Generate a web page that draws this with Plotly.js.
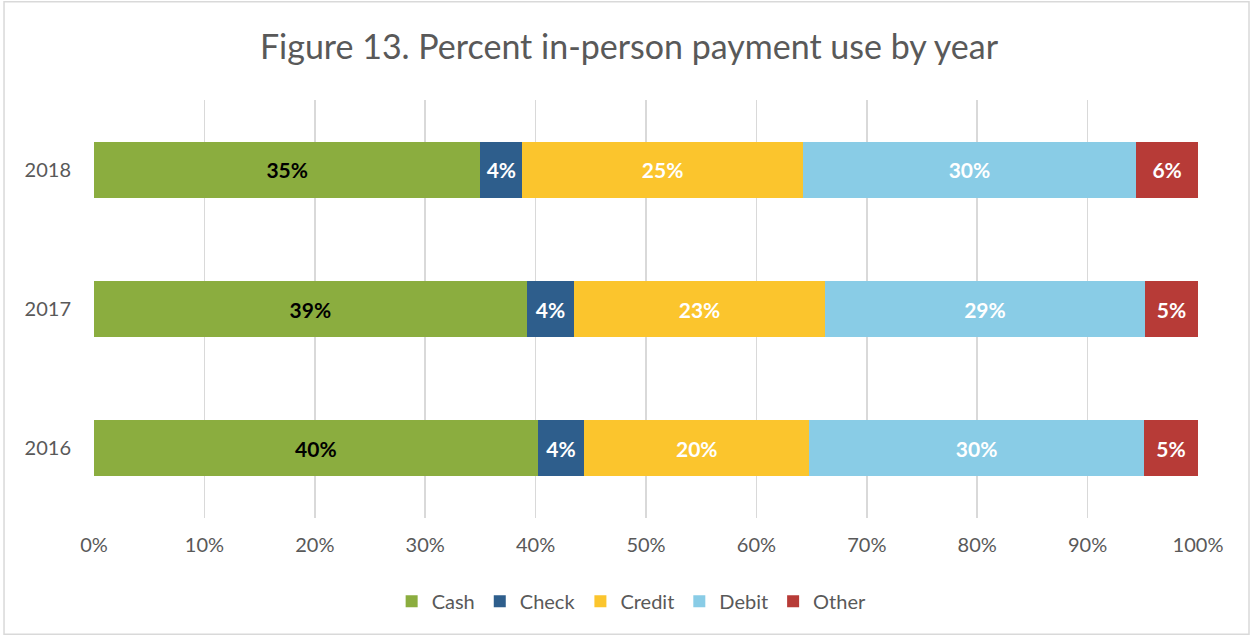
<!DOCTYPE html>
<html>
<head>
<meta charset="utf-8">
<script src="https://cdn.plot.ly/plotly-3.0.1.min.js"></script>
<style>html,body{margin:0;padding:0;background:#fff;}#chart{width:1252px;height:637px;}</style>
</head>
<body>
<div id="chart"></div>
<script>
const years = ['2016', '2017', '2018'];
const cash   = [40.2, 39.2, 35.0];
const check  = [4.2, 4.3, 3.8];
const credit = [20.4, 22.7, 25.4];
const debit  = [30.3, 29.0, 30.2];
const other  = [4.9, 4.8, 5.6];
const seriesNames = ['Cash', 'Check', 'Credit', 'Debit', 'Other'];
const seriesColors = ['#8BAD3F', '#2E5E8C', '#FBC52D', '#89CCE6', '#B73B37'];
const labelColors = ['#000000', '#FFFFFF', '#FFFFFF', '#FFFFFF', '#FFFFFF'];
const xTicks = [0, 10, 20, 30, 40, 50, 60, 70, 80, 90, 100];

const FONT = 'Lato, "Open Sans", sans-serif';
const values = [cash, check, credit, debit, other];
const traces = values.map((v, i) => ({
  type: 'bar',
  orientation: 'h',
  name: seriesNames[i],
  y: years,
  x: v,
  marker: {color: seriesColors[i], line: {width: 0}},
  texttemplate: '%{x:.0f}%',
  textposition: 'inside',
  insidetextanchor: 'middle',
  textangle: 0,
  constraintext: 'none',
  textfont: {family: FONT, size: 21, color: labelColors[i], weight: 'bold'},
  hoverinfo: 'name+x'
}));

const layout = {
  width: 1252, height: 637,
  margin: {l: 94, r: 54, t: 100, b: 119},
  paper_bgcolor: '#FFFFFF',
  plot_bgcolor: '#FFFFFF',
  barmode: 'stack',
  bargap: 0.6,
  font: {family: FONT, color: '#595959'},
  title: {
    text: 'Figure 13. Percent in-person payment use by year',
    font: {family: FONT, size: 34, color: '#595959'},
    xref: 'container', x: 0.5024, xanchor: 'center',
    yref: 'container', y: 0.926, yanchor: 'middle'
  },
  xaxis: {
    range: [0, 100],
    tickvals: xTicks,
    ticktext: xTicks.map(t => t + '%'),
    showgrid: true, gridcolor: '#D9D9D9', gridwidth: 1.5,
    zeroline: false, showline: false,
    ticks: '', ticklabelstandoff: 13,
    tickfont: {family: FONT, size: 20, color: '#595959'},
    fixedrange: true
  },
  yaxis: {
    type: 'category',
    categoryorder: 'array', categoryarray: years,
    showgrid: false, zeroline: false, showline: false,
    ticks: '', ticklabelstandoff: 22,
    tickfont: {family: FONT, size: 20, color: '#595959'},
    fixedrange: true
  },
  showlegend: true,
  legend: {
    orientation: 'h',
    x: 0.487, xanchor: 'center',
    y: -0.199, yanchor: 'middle',
    font: {family: FONT, size: 20, color: '#595959'},
    traceorder: 'normal',
    itemwidth: 30
  },
  shapes: [{
    type: 'rect', xref: 'paper', yref: 'paper',
    x0: -0.0815, x1: 1.0462, y0: -0.278, y1: 1.235,
    line: {color: '#D9D9D9', width: 1.5}, fillcolor: 'rgba(0,0,0,0)', layer: 'below'
  }]
};

Plotly.newPlot('chart', traces, layout, {displayModeBar: false, staticPlot: true});
</script>
</body>
</html>
